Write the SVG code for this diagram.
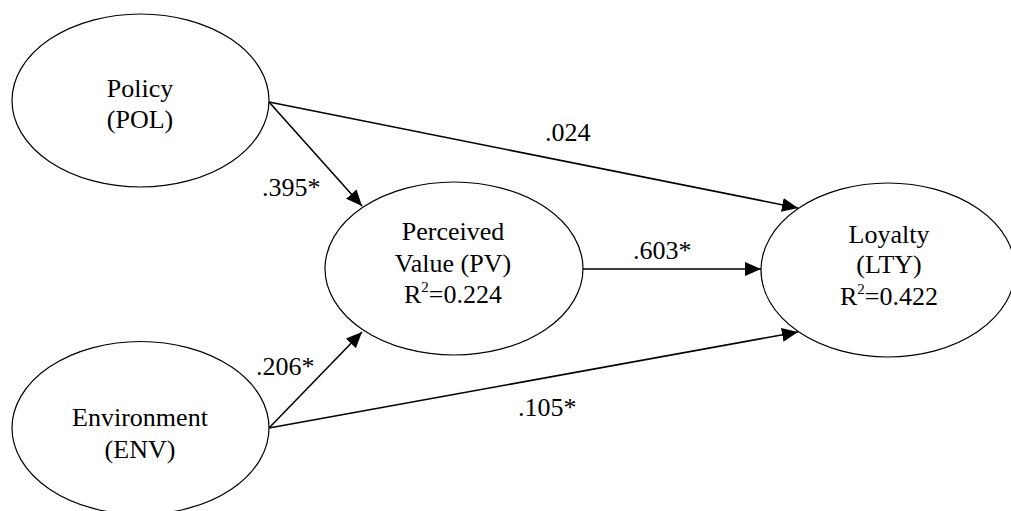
<svg xmlns="http://www.w3.org/2000/svg" width="1011" height="511" viewBox="0 0 1011 511">
<style>
.node ellipse{fill:#fff;stroke:#000;stroke-width:1.2}
text{font-family:"Liberation Serif","Times New Roman",serif;font-size:26px;fill:#000}
.c{text-anchor:middle}
.edge{stroke:#000;stroke-width:1.6;fill:none;marker-end:url(#ah)}
.sup{font-size:15px}
</style>
<defs>
<marker id="ah" markerUnits="userSpaceOnUse" markerWidth="18" markerHeight="16" refX="16" refY="7" orient="auto">
<path d="M0,0 L16,7 L0,14 Z" fill="#000"/>
</marker>
</defs>
<rect width="1011" height="511" fill="#fff"/>
<g id="connectors">
<line class="edge" x1="269" y1="102" x2="362" y2="206"/>
<line class="edge" x1="269" y1="102" x2="798" y2="208"/>
<line class="edge" x1="269" y1="428" x2="362" y2="332"/>
<line class="edge" x1="269" y1="428" x2="798" y2="332"/>
<line class="edge" x1="583" y1="269" x2="761" y2="269"/>
<text x="545" y="141">.024</text>
<text x="262" y="196">.395*</text>
<text x="256" y="375">.206*</text>
<text x="633" y="259">.603*</text>
<text x="518" y="416">.105*</text>
</g>
<g id="pol" class="node">
<ellipse cx="140.5" cy="100.5" rx="128.5" ry="86.5"/>
<text class="c" x="140" y="97">Policy</text>
<text class="c" x="140" y="128">(POL)</text>
</g>
<g id="env" class="node">
<ellipse cx="140.5" cy="428" rx="128.5" ry="86.5"/>
<text class="c" x="140" y="426">Environment</text>
<text class="c" x="140" y="458">(ENV)</text>
</g>
<g id="pv" class="node">
<ellipse cx="454" cy="268.5" rx="129" ry="86.5"/>
<text class="c" x="453" y="240">Perceived</text>
<text class="c" x="453" y="272">Value (PV)</text>
<text class="c" x="453" y="303">R<tspan class="sup" dy="-11">2</tspan><tspan dy="11">=0.224</tspan></text>
</g>
<g id="lty" class="node">
<ellipse cx="888" cy="270" rx="127" ry="87"/>
<text class="c" x="889" y="243">Loyalty</text>
<text class="c" x="889" y="273">(LTY)</text>
<text class="c" x="889" y="305">R<tspan class="sup" dy="-11">2</tspan><tspan dy="11">=0.422</tspan></text>
</g>
</svg>
